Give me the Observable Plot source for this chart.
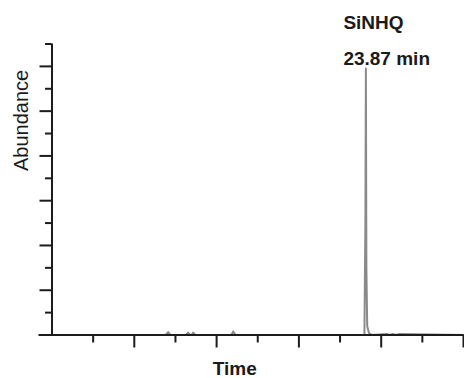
<!DOCTYPE html>
<html>
<head>
<meta charset="utf-8">
<script src="https://cdn.jsdelivr.net/npm/d3@7"></script>
<script src="https://cdn.jsdelivr.net/npm/@observablehq/plot@0.6"></script>
<style>
  html, body { margin: 0; padding: 0; background: #ffffff; }
  #chart svg { display: block; }
</style>
</head>
<body>
<div id="chart"></div>
<script>
// ---- data ----
const times = [4.8, 11.7, 11.86, 12.0, 12.95, 13.07, 13.2, 13.28, 13.38, 13.5, 15.7, 15.81, 15.95,
               23.78, 23.84, 23.87, 23.9, 23.95, 24.05, 24.2, 25.15, 25.3, 25.5, 25.7, 25.9, 29.8];
const abundance = [0, 0, 1.3, 0, 0, 1.1, 0, 0, 1.1, 0, 0, 1.6, 0,
                   0, 50, 119, 30, 4, 1, 0, 0.5, 0, 0.5, 0, 0.5, 0];
const xDomain = [4.8, 29.8];
const yDomain = [0, 130];
const xMajorTicks = [9.8, 14.8, 19.8, 24.8, 29.8];
const xMinorTicks = [7.3, 12.3, 17.3, 22.3, 27.3];
const yMajorTicks = [20, 40, 60, 80, 100, 120];
const yMinorTicks = [10, 30, 50, 70, 90, 110, 130];
const peakName = "SiNHQ";
const peakTime = 23.87;
const peakLabel = "23.87 min";
const xTitle = "Time";
const yTitle = "Abundance";

const series = times.map((t, i) => ({time: t, abundance: abundance[i]}));

const W = 464, H = 378;
const mL = 51.5, mR = 1, mT = 43.5, mB = 43.5;
const font = "'Liberation Sans', Arial, Helvetica, sans-serif";
const axisColor = "#1c1c1c";

const chart = Plot.plot({
  width: W,
  height: H,
  marginLeft: mL,
  marginRight: mR,
  marginTop: mT,
  marginBottom: mB,
  style: {fontFamily: font, background: "#ffffff", overflow: "visible"},
  x: {domain: xDomain, axis: null},
  y: {domain: yDomain, axis: null},
  marks: [
    // chromatogram trace
    Plot.line(series, {x: "time", y: "abundance", stroke: "#8a8a8a", strokeWidth: 2, strokeLinejoin: "round"}),
    // y axis line
    Plot.ruleX([xDomain[0]], {stroke: axisColor, strokeWidth: 2}),
    // x axis line (extends a little left of the y axis)
    Plot.ruleY([0], {stroke: axisColor, strokeWidth: 2, insetLeft: -13}),
    // ticks
    Plot.axisX(xMajorTicks, {anchor: "bottom", tickSize: 13, tickFormat: () => "", label: null, stroke: axisColor, strokeWidth: 2}),
    Plot.axisX(xMinorTicks, {anchor: "bottom", tickSize: 8, tickFormat: () => "", label: null, stroke: axisColor, strokeWidth: 2}),
    Plot.axisY(yMajorTicks, {anchor: "left", tickSize: 12, tickFormat: () => "", label: null, stroke: axisColor, strokeWidth: 2}),
    Plot.axisY(yMinorTicks, {anchor: "left", tickSize: 6.5, tickFormat: () => "", label: null, stroke: axisColor, strokeWidth: 2}),
    // peak annotation
    Plot.text([peakName], {x: () => peakTime, frameAnchor: "top", text: d => d, dx: -22.5, dy: -15,
      textAnchor: "start", lineAnchor: "bottom", fontSize: 19, fontWeight: "bold", fill: "#1a1a1a"}),
    Plot.text([peakLabel], {x: () => peakTime, frameAnchor: "top", text: d => d, dx: -22.5, dy: 21,
      textAnchor: "start", lineAnchor: "bottom", fontSize: 19, fontWeight: "bold", fill: "#1a1a1a"}),
    // axis titles
    Plot.text([xTitle], {frameAnchor: "bottom", text: d => d, dx: -23, dy: 40,
      lineAnchor: "bottom", fontSize: 19, fontWeight: "bold", fill: "#1a1a1a"}),
    Plot.text([yTitle], {frameAnchor: "left", text: d => d, rotate: -90, dx: -24.5, dy: -18.5,
      lineAnchor: "bottom", fontSize: 20, fill: "#1a1a1a"})
  ]
});

document.getElementById("chart").appendChild(chart);
</script>
</body>
</html>
